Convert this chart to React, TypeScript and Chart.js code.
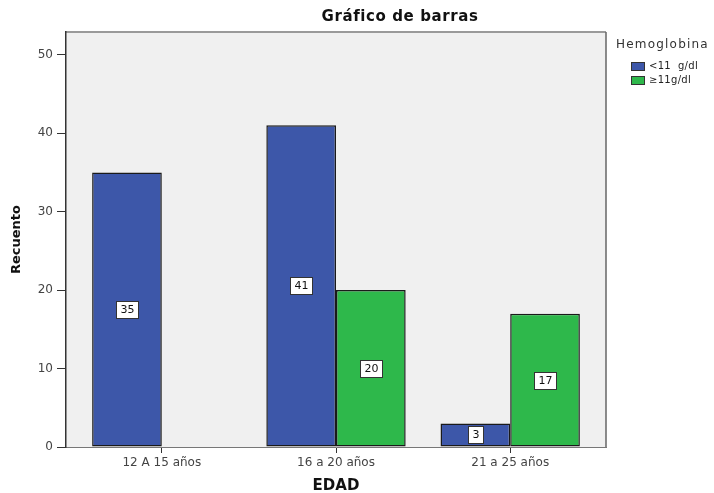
import React, { useEffect, useRef } from "react";
import { Chart, registerables } from "chart.js";

Chart.register(...registerables);

const categories = ["12 A 15 años", "16 a 20 años", "21 a 25 años"];
const seriesLabels = ["<11  g/dl", "≥11g/dl"];
const lowHb = [35, 41, 3];
const highHb: (number | null)[] = [null, 20, 17];
const yTicks = [0, 10, 20, 30, 40, 50];
const seriesColors = ["#3d57a9", "#2eb84b"];

const FONT = "'DejaVu Sans', 'Liberation Sans', sans-serif";

const plotBg = {
  id: "plotBg",
  beforeDraw(chart: any) {
    const { ctx, chartArea: a } = chart;
    ctx.save();
    ctx.fillStyle = "#f0f0f0";
    ctx.fillRect(a.left, a.top, a.right - a.left, a.bottom - a.top);
    ctx.strokeStyle = "#9a9a9a";
    ctx.lineWidth = 2;
    ctx.beginPath();
    ctx.moveTo(a.left, a.top);
    ctx.lineTo(a.right, a.top);
    ctx.stroke();
    ctx.strokeStyle = "#666";
    ctx.lineWidth = 1.5;
    ctx.beginPath();
    ctx.moveTo(a.right, a.top);
    ctx.lineTo(a.right, a.bottom);
    ctx.stroke();
    ctx.restore();
  },
};

const valueLabels = {
  id: "valueLabels",
  afterDatasetsDraw(chart: any) {
    const { ctx } = chart;
    ctx.save();
    ctx.font = `11px ${FONT}`;
    ctx.textAlign = "center";
    ctx.textBaseline = "middle";
    chart.data.datasets.forEach((ds: any, di: number) => {
      const meta = chart.getDatasetMeta(di);
      meta.data.forEach((el: any, i: number) => {
        const v = ds.data[i]?.y;
        if (v === null || v === undefined) return;
        const txt = String(v);
        const cx = el.x;
        const cy = (el.y + el.base) / 2;
        const w = Math.round(ctx.measureText(txt).width + 8);
        const h = 17;
        const x0 = Math.round(cx - w / 2);
        const y0 = Math.round(cy - h / 2);
        ctx.fillStyle = "rgba(0,0,0,0.35)";
        ctx.fillRect(x0 + 1, y0 + 1, w, h);
        ctx.fillStyle = "#ffffff";
        ctx.fillRect(x0, y0, w, h);
        ctx.strokeStyle = "#333";
        ctx.lineWidth = 1;
        ctx.strokeRect(x0 + 0.5, y0 + 0.5, w, h);
        ctx.fillStyle = "#111";
        ctx.fillText(txt, x0 + w / 2 + 0.5, y0 + h / 2 + 1);
      });
    });
    ctx.restore();
  },
};

const titleLegend = {
  id: "titleLegend",
  afterDraw(chart: any) {
    const { ctx } = chart;
    ctx.save();
    ctx.fillStyle = "#111";
    ctx.textAlign = "center";
    ctx.textBaseline = "middle";
    ctx.font = `bold 15px ${FONT}`;
    (ctx as any).letterSpacing = "0.6px";
    ctx.fillText("Gráfico de barras", 400, 17);
    ctx.textAlign = "left";
    ctx.fillStyle = "#333";
    ctx.font = `12px ${FONT}`;
    (ctx as any).letterSpacing = "1.2px";
    ctx.fillText("Hemoglobina", 616, 45);
    (ctx as any).letterSpacing = "0.3px";
    ctx.font = `10px ${FONT}`;
    chart.data.datasets.forEach((ds: any, i: number) => {
      const y = 66 + i * 14;
      ctx.fillStyle = ds.backgroundColor;
      ctx.fillRect(631, y - 4, 14, 9);
      ctx.strokeStyle = "#333";
      ctx.lineWidth = 1;
      ctx.strokeRect(631.5, y - 3.5, 13, 8);
      ctx.fillStyle = "#222";
      ctx.fillText(ds.label, 649, y + 0.5);
    });
    ctx.restore();
  },
};

export default function App() {
  const ref = useRef<HTMLCanvasElement | null>(null);

  useEffect(() => {
    if (!ref.current) return;
    const chart = new Chart(ref.current, {
      type: "bar",
      data: {
        datasets: [
          {
            label: seriesLabels[0],
            data: lowHb.map((v, i) => ({ x: i, y: v })) as any,
            backgroundColor: seriesColors[0],
            borderColor: "#1a1a1a",
            borderWidth: 1.5,
            borderSkipped: false,
          },
          {
            label: seriesLabels[1],
            data: highHb.map((v, i) => ({ x: i, y: v })) as any,
            backgroundColor: seriesColors[1],
            borderColor: "#1a1a1a",
            borderWidth: 1.5,
            borderSkipped: false,
          },
        ],
      },
      options: {
        responsive: false,
        animation: false,
        layout: { padding: { top: 32, right: 108, left: 0, bottom: 0 } },
        datasets: { bar: { barPercentage: 1, categoryPercentage: 0.8 } },
        plugins: {
          legend: { display: false },
          tooltip: { enabled: false },
          title: { display: false },
        },
        scales: {
          x: {
            type: "linear",
            min: -0.55,
            max: 2.55,
            offset: false,
            afterBuildTicks: (s: any) => {
              s.ticks = categories.map((_, i) => ({ value: i }));
            },
            afterFit: (s: any) => {
              s.height = 46;
            },
            grid: { drawOnChartArea: false, tickLength: 6, color: "#333", offset: false },
            border: { color: "#777", width: 1 },
            ticks: {
              callback: (v: any) => categories[v],
              padding: 3,
              autoSkip: false,
              maxRotation: 0,
              color: "#444",
              font: { family: FONT, size: 12 },
            },
            title: {
              display: true,
              text: "EDAD",
              color: "#111",
              font: { family: FONT, size: 15, weight: "bold" },
              padding: { top: 0, bottom: -2 },
            },
          } as any,
          y: {
            min: 0,
            max: 52.9,
            afterBuildTicks: (s: any) => {
              s.ticks = yTicks.map((v) => ({ value: v }));
            },
            afterFit: (s: any) => {
              s.width = 66;
            },
            grid: { drawOnChartArea: false, tickLength: 9, color: "#333" },
            border: { color: "#333", width: 1.5 },
            ticks: {
              padding: 4,
              color: "#444",
              font: { family: FONT, size: 12 },
            },
            title: {
              display: true,
              text: "Recuento",
              color: "#111",
              font: { family: FONT, size: 13, weight: "bold" },
              padding: { top: 9, bottom: 0 },
            },
          } as any,
        },
      },
      plugins: [plotBg, valueLabels, titleLegend],
    });
    return () => chart.destroy();
  }, []);

  return (
    <div style={{ position: "fixed", left: 0, top: 0, width: 714, height: 493, background: "#fff" }}>
      <canvas ref={ref} width={714} height={493} style={{ display: "block" }} />
    </div>
  );
}
